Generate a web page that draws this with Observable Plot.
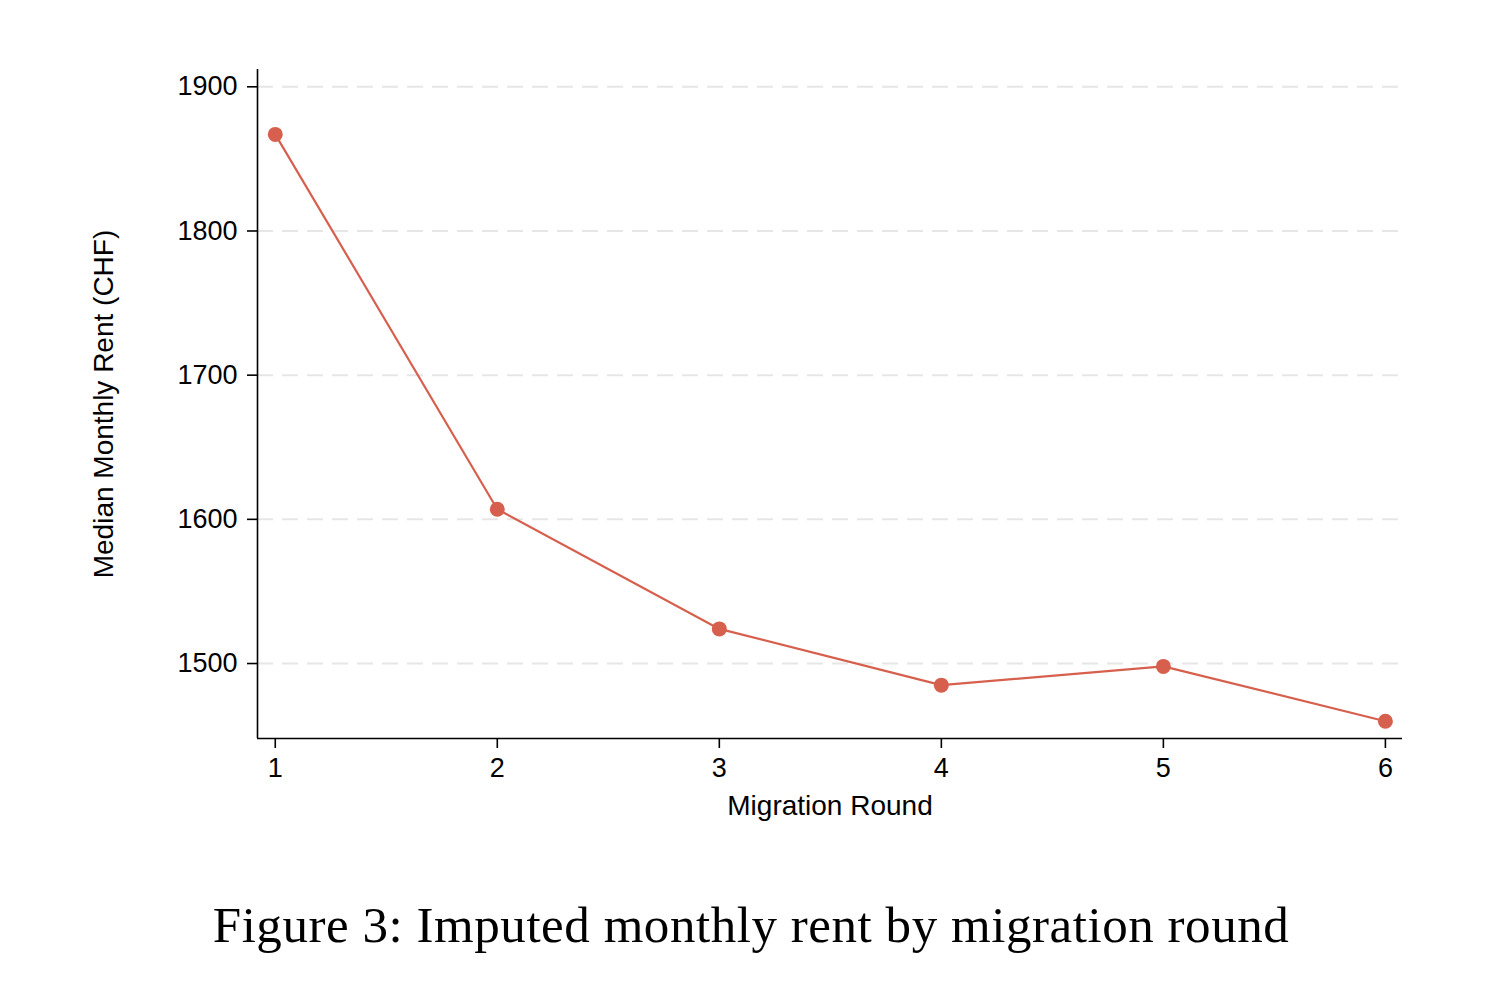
<!DOCTYPE html>
<html>
<head>
<meta charset="utf-8">
<script src="https://cdn.jsdelivr.net/npm/d3@7"></script>
<script src="https://cdn.jsdelivr.net/npm/@observablehq/plot@0.6"></script>
<style>
  html, body { margin: 0; padding: 0; background: #fff; }
  #wrap { position: relative; width: 1502px; height: 986px; }
  #caption {
    position: absolute; left: 0; width: 1502px; top: 900px;
    text-align: center; font-family: "Liberation Serif", "DejaVu Serif", serif;
    font-size: 51px; line-height: 51px; letter-spacing: 0.55px; color: #000;
  }
</style>
</head>
<body>
<div id="wrap">
  <div id="chart"></div>
  <div id="caption">Figure 3: Imputed monthly rent by migration round</div>
</div>
<script>
const rounds = [1, 2, 3, 4, 5, 6];
const rent = [1867, 1607, 1524, 1485, 1498, 1460];
const yTicks = [1500, 1600, 1700, 1800, 1900];
const xDomain = [0.92, 6.077];
const yDomain = [1448, 1912];
const xLabel = "Migration Round";
const yLabel = "Median Monthly Rent (CHF)";
const lineColor = "#d6604d";

const data = rounds.map((r, i) => ({round: r, rent: rent[i]}));

const chart = Plot.plot({
  width: 1502,
  height: 860,
  marginLeft: 257,
  marginRight: 100,
  marginTop: 69,
  marginBottom: 122,
  style: {fontFamily: "'Liberation Sans', Arial, sans-serif", fontSize: "27px", color: "#000", background: "#fff"},
  x: {domain: xDomain, ticks: rounds},
  y: {domain: yDomain, ticks: yTicks},
  marks: [
    Plot.gridY(yTicks, {stroke: "#e6e6e6", strokeOpacity: 1, strokeWidth: 2, strokeDasharray: "16,9"}),
    Plot.ruleX([xDomain[0]], {stroke: "#000", strokeWidth: 1.6}),
    Plot.ruleY([yDomain[0]], {stroke: "#000", strokeWidth: 1.6}),
    Plot.axisY(yTicks, {tickSize: 10, tickPadding: 10, fontSize: 27, label: null, strokeWidth: 1.6, tickFormat: d => String(d)}),
    Plot.axisX(rounds, {tickSize: 10, tickPadding: 9, fontSize: 27, label: null, strokeWidth: 1.6, tickFormat: d => String(d)}),
    Plot.text([xLabel], {frameAnchor: "bottom", dy: 68, fontSize: 28, lineAnchor: "middle", textAnchor: "middle"}),
    Plot.text([yLabel], {frameAnchor: "left", dx: -153, rotate: -90, fontSize: 28, lineAnchor: "middle", textAnchor: "middle"}),
    Plot.line(data, {x: "round", y: "rent", stroke: lineColor, strokeWidth: 2.2}),
    Plot.dot(data, {x: "round", y: "rent", r: 7.5, fill: lineColor, stroke: "none"})
  ]
});
document.getElementById("chart").appendChild(chart);
</script>
</body>
</html>
